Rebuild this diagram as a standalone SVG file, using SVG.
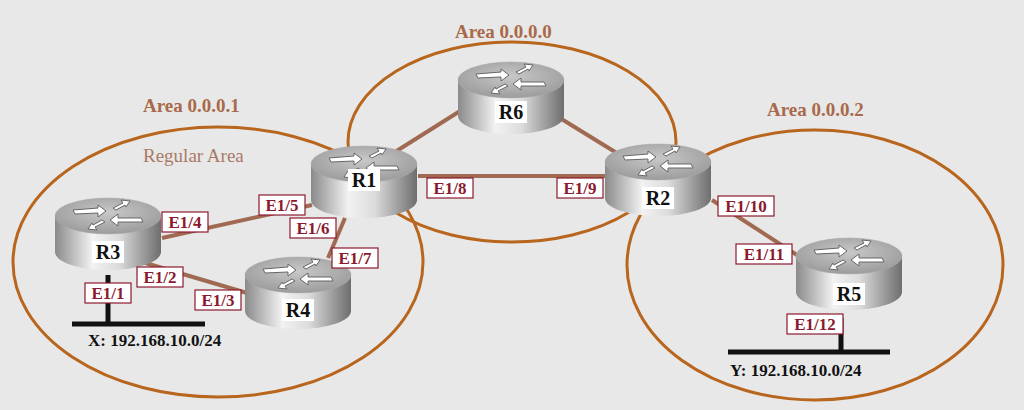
<svg xmlns="http://www.w3.org/2000/svg" xmlns:xlink="http://www.w3.org/1999/xlink" width="1024" height="410" viewBox="0 0 1024 410">
<style>
.area{fill:none;stroke:#b8651e;stroke-width:3}
.title{font-family:"Liberation Serif","Times New Roman","DejaVu Serif",serif;font-weight:bold;font-size:19px;fill:#a86a4a}
.link{stroke:#a06a52;stroke-width:4;fill:none}
.lb rect{fill:#fff;stroke:#8b1a2e;stroke-width:1.2}
.lb text{font-family:"Liberation Serif","Times New Roman","DejaVu Serif",serif;font-weight:bold;font-size:17px;fill:#8b1a2e;text-anchor:middle}
.rn{font-family:"Liberation Serif","Times New Roman","DejaVu Serif",serif;font-weight:bold;font-size:20px;fill:#111;text-anchor:middle}
.net{stroke:#111;stroke-width:5}
.nt{font-family:"Liberation Serif","Times New Roman","DejaVu Serif",serif;font-weight:bold;font-size:17px;fill:#111}
.reg{font-family:"Liberation Serif","Times New Roman","DejaVu Serif",serif;font-size:19px;fill:#a87a66}
.arr{fill:#fff;stroke:#666;stroke-width:1}
</style>
<defs>
<linearGradient id="cyl" x1="0" x2="1" y1="0" y2="0">
<stop offset="0" stop-color="#8a8a8a"/><stop offset="0.35" stop-color="#f2f2f2"/><stop offset="0.6" stop-color="#dcdcdc"/><stop offset="1" stop-color="#6e6e6e"/>
</linearGradient>
<radialGradient id="top" cx="0.5" cy="0.4" r="0.6">
<stop offset="0" stop-color="#c8c8c8"/><stop offset="1" stop-color="#9c9c9c"/>
</radialGradient>
<g id="router">
<path d="M-53,0 L-53,36 A53,18 0 0 0 53,36 L53,0 Z" fill="url(#cyl)"/>
<ellipse cx="0" cy="0" rx="53" ry="18" fill="url(#top)" stroke="#aaa" stroke-width="0.5"/>
<path class="arr" d="M-35,-6 L-10,-8 L-10,-11 L-2,-5 L-10,1 L-10,-3 L-33,-2 Z"/>
<path class="arr" d="M35,6 L10,6 L10,10 L2,4 L10,-2 L10,2 L33,2 Z"/>
<path class="arr" d="M5,-8 L15,-13 L13,-16 L22,-15 L18,-9 L17,-11 L8,-6 Z"/>
<path class="arr" d="M-3,6 L-13,11 L-11,14 L-20,13 L-16,7 L-15,9 L-6,4 Z"/>
</g>
</defs>
<rect width="1024" height="410" fill="#e8e8e8"/>
<g id="areas">
<ellipse class="area" cx="218" cy="262" rx="205" ry="135"/>
<ellipse class="area" cx="512" cy="142" rx="164" ry="100"/>
<ellipse class="area" cx="815" cy="265" rx="188" ry="135"/>
<text class="title" x="143" y="112">Area 0.0.0.1</text>
<text class="title" x="455" y="38">Area 0.0.0.0</text>
<text class="title" x="767" y="116">Area 0.0.0.2</text>
<text class="reg" x="143" y="162">Regular Area</text>
</g>
<g id="connectors">
<line class="link" x1="162" y1="238" x2="312" y2="205"/>
<line class="link" x1="142" y1="262" x2="247" y2="293"/>
<line class="link" x1="345" y1="218" x2="328" y2="258"/>
<line class="link" x1="395" y1="152" x2="468" y2="106"/>
<line class="link" x1="555" y1="115" x2="620" y2="155"/>
<line class="link" x1="418" y1="176" x2="606" y2="176"/>
<line class="link" x1="712" y1="200" x2="800" y2="257"/>
</g>
<g id="R6"><use xlink:href="#router" x="511" y="80"/><rect x="495" y="101" width="32" height="22" fill="#fff"/><text class="rn" x="511" y="119">R6</text></g>
<g id="R1"><use xlink:href="#router" x="364" y="164"/><rect x="348" y="169" width="32" height="22" fill="#fff"/><text class="rn" x="364" y="187">R1</text></g>
<g id="R2"><use xlink:href="#router" x="658" y="162"/><rect x="642" y="187" width="32" height="22" fill="#fff"/><text class="rn" x="658" y="205">R2</text></g>
<g id="R3"><use xlink:href="#router" x="108" y="216"/><rect x="92" y="241" width="32" height="22" fill="#fff"/><text class="rn" x="108" y="259">R3</text></g>
<g id="R4"><use xlink:href="#router" x="298" y="275"/><rect x="282" y="299" width="32" height="22" fill="#fff"/><text class="rn" x="298" y="317">R4</text></g>
<g id="R5"><use xlink:href="#router" x="849" y="256"/><rect x="833" y="283" width="32" height="22" fill="#fff"/><text class="rn" x="849" y="301">R5</text></g>
<g id="netX"><line class="net" x1="108" y1="275" x2="108" y2="324"/><line class="net" x1="72" y1="324" x2="205" y2="324"/><text class="nt" x="88" y="346">X: 192.168.10.0/24</text></g>
<g id="netY"><line class="net" x1="841" y1="318" x2="841" y2="352"/><line class="net" x1="728" y1="352" x2="890" y2="352"/><text class="nt" x="730" y="376">Y: 192.168.10.0/24</text></g>
<g id="labels">
<g class="lb"><rect x="162" y="212" width="46" height="20"/><text x="185" y="228">E1/4</text></g>
<g class="lb"><rect x="259" y="195" width="46" height="20"/><text x="282" y="211">E1/5</text></g>
<g class="lb"><rect x="290" y="218" width="46" height="20"/><text x="313" y="234">E1/6</text></g>
<g class="lb"><rect x="332" y="248" width="46" height="20"/><text x="355" y="264">E1/7</text></g>
<g class="lb"><rect x="137" y="267" width="46" height="20"/><text x="160" y="283">E1/2</text></g>
<g class="lb"><rect x="195" y="290" width="46" height="20"/><text x="218" y="306">E1/3</text></g>
<g class="lb"><rect x="85" y="283" width="46" height="20"/><text x="108" y="299">E1/1</text></g>
<g class="lb"><rect x="427" y="178" width="46" height="20"/><text x="450" y="194">E1/8</text></g>
<g class="lb"><rect x="557" y="178" width="46" height="20"/><text x="580" y="194">E1/9</text></g>
<g class="lb"><rect x="718" y="196" width="56" height="20"/><text x="746" y="212">E1/10</text></g>
<g class="lb"><rect x="736" y="244" width="56" height="20"/><text x="764" y="260">E1/11</text></g>
<g class="lb"><rect x="787" y="314" width="56" height="20"/><text x="815" y="330">E1/12</text></g>
</g>
</svg>
